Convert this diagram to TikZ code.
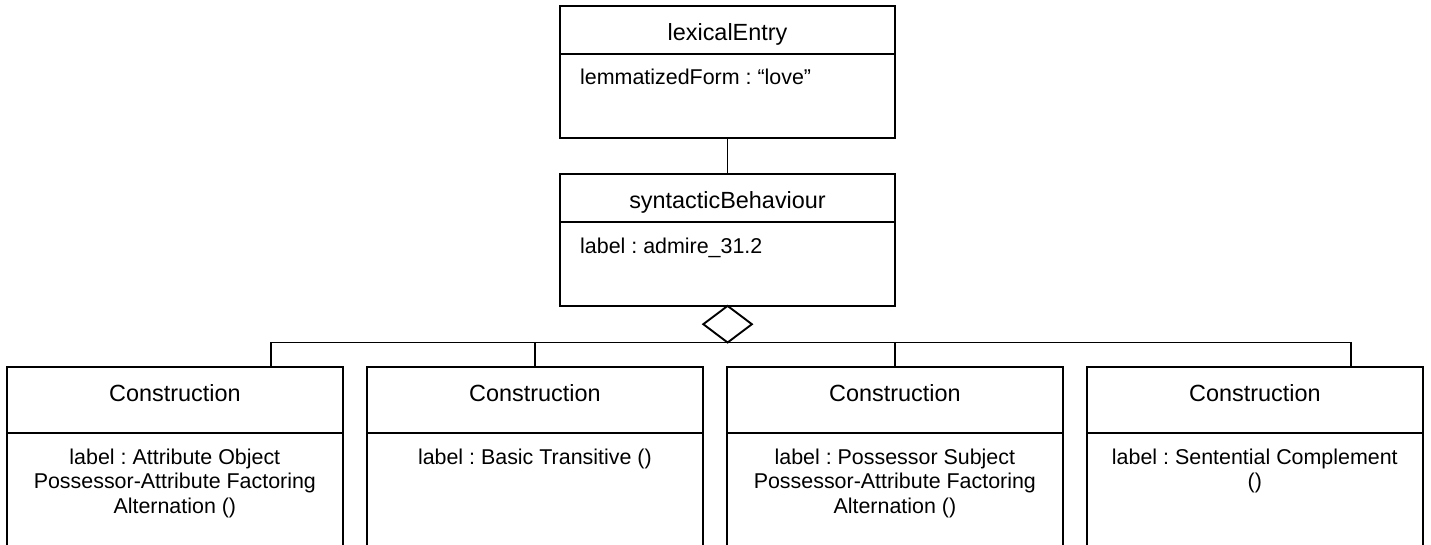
\documentclass[tikz,border=0pt]{standalone}
\usepackage{fontspec}
\setmainfont{Liberation Sans}
\usetikzlibrary{shapes.geometric}
\frenchspacing
\begin{document}
\begin{tikzpicture}[x=1bp,y=-1bp,
  comp/.style={draw=black, line width=2bp, rectangle, inner sep=0pt, outer sep=0pt},
  topcomp/.style={comp, minimum width=335bp},
  ccomp/.style={comp, minimum width=336.3bp},
  title/.style={inner sep=0pt, anchor=base, font=\fontsize{23.5}{27}\selectfont},
  attr/.style={inner sep=0pt, font=\fontsize{21.5}{25}\selectfont},
  clabel/.style={attr, anchor=north, align=center},
  conn/.style={draw=black, line width=1.9bp},
  agg/.style={diamond, draw=black, line width=1.9bp, fill=white, inner sep=0pt, outer sep=0pt,
    minimum width=48.6bp, minimum height=36.6bp}
]
\useasboundingbox (0,0) rectangle (1431,545);
\clip (0,0) rectangle (1431,545);

% lexicalEntry class
\node[topcomp, minimum height=48bp] (lexT) at (727.5,30) {};
\node[topcomp, minimum height=83.7bp] (lexA) at (727.5,95.85) {};
\node[title] (lexName) at (727.5,40.5) {lexicalEntry};
\node[attr, anchor=base west] (lexAttr) at (580,85) {lemmatizedForm : “love”};

% syntacticBehaviour class
\node[topcomp, minimum height=47.7bp] (synT) at (727.5,198.15) {};
\node[topcomp, minimum height=83.7bp] (synA) at (727.5,263.85) {};
\node[title] (synName) at (727.5,208.5) {syntacticBehaviour};
\node[attr, anchor=base west] (synAttr) at (580,254) {label : admire\_31.2};

\draw[conn] (lexA.south) -- (synT.north);

% aggregation diamond
\node[agg] (aggr) at (727.6,324.2) {};

% Construction classes
\foreach \i/\cx in {1/174.85, 2/534.85, 3/894.85, 4/1254.85} {
  \node[ccomp, minimum height=66.6bp] (c\i t) at (\cx,400) {};
  \node[ccomp, minimum height=166.7bp] (c\i a) at (\cx,516.65) {};
  \node[title] (c\i name) at (\cx,401) {Construction};
}
\node[clabel] (c1lab) at (174.85,448.3) {label : Attribute Object\\Possessor-Attribute Factoring\\Alternation ()};
\node[clabel] (c2lab) at (534.85,448.3) {label : Basic Transitive ()};
\node[clabel] (c3lab) at (894.85,448.3) {label : Possessor Subject\\Possessor-Attribute Factoring\\Alternation ()};
\node[clabel] (c4lab) at (1254.85,448.3) {label : Sentential Complement\\()};

% branch ends on the outer boxes
\coordinate (j1) at (271,366.7);
\coordinate (j4) at (1351,366.7);

\draw[conn] (aggr.south) -| (j1);
\draw[conn] (aggr.south) -| (c2t.north);
\draw[conn] (aggr.south) -| (c3t.north);
\draw[conn] (aggr.south) -| (j4);
\end{tikzpicture}
\end{document}
